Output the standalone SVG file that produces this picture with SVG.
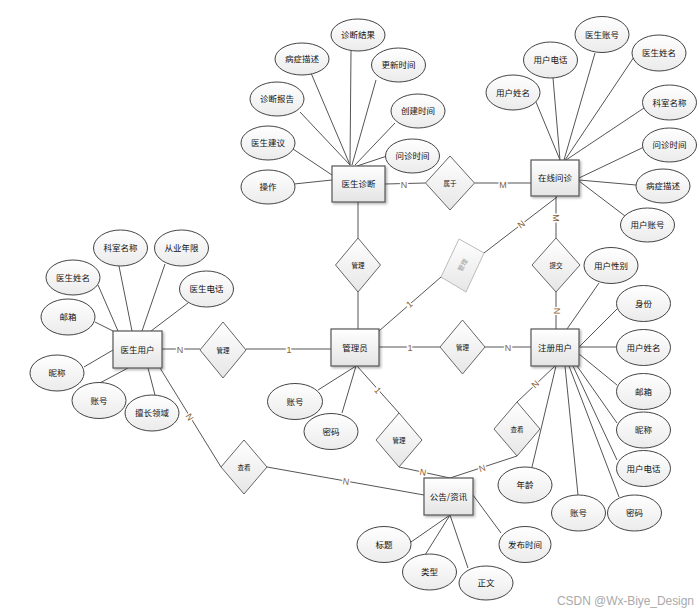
<svg xmlns="http://www.w3.org/2000/svg" width="699" height="614" viewBox="0 0 699 614">
<defs>
<linearGradient id="gE" x1="0" y1="0" x2="0" y2="1"><stop offset="0" stop-color="#ffffff"/><stop offset="1" stop-color="#e4e4e4"/></linearGradient>
<linearGradient id="gA" x1="0" y1="0" x2="0" y2="1"><stop offset="0" stop-color="#ffffff"/><stop offset="1" stop-color="#ebebeb"/></linearGradient>
<linearGradient id="gR" x1="0" y1="0" x2="0" y2="1"><stop offset="0" stop-color="#ffffff"/><stop offset="1" stop-color="#e6e6e6"/></linearGradient>
<filter id="sh" x="-20%" y="-20%" width="150%" height="150%"><feDropShadow dx="1.5" dy="1.5" stdDeviation="1" flood-color="#000" flood-opacity="0.3"/></filter>
</defs>
<style>
.ent rect{fill:url(#gE);stroke:#555;stroke-width:1.2;filter:url(#sh)}
.att ellipse{fill:url(#gA);stroke:#444;stroke-width:1}
.rel polygon{fill:url(#gR);stroke:#666;stroke-width:1}
.t{font-family:"Noto Sans CJK SC","Noto Sans CJK JP",sans-serif;font-size:8.5px;fill:#111;text-anchor:middle}
.s{font-size:6.5px}
.lab{font-family:"Liberation Sans",sans-serif;font-size:9px;fill:#8a6030;stroke:#fff;stroke-width:3;paint-order:stroke;text-anchor:middle}
#connectors line{stroke:#555;stroke-width:1}
</style>
<rect width="699" height="614" fill="#fff"/>
<g id="connectors">
<line x1="385" y1="184" x2="425.5" y2="183"/>
<line x1="474.5" y1="183" x2="531" y2="183"/>
<line x1="556" y1="196" x2="556" y2="238"/>
<line x1="556" y1="292" x2="556" y2="329"/>
<line x1="358" y1="202" x2="358" y2="238"/>
<line x1="358" y1="292" x2="358" y2="329"/>
<line x1="379" y1="331" x2="441" y2="277"/>
<line x1="484" y1="253" x2="557" y2="197"/>
<line x1="331" y1="349" x2="246" y2="349"/>
<line x1="162" y1="349" x2="200" y2="349"/>
<line x1="379" y1="347" x2="440" y2="347"/>
<line x1="485" y1="347" x2="531" y2="347"/>
<line x1="357" y1="366" x2="399" y2="413"/>
<line x1="399" y1="467" x2="450" y2="478"/>
<line x1="450" y1="478" x2="517" y2="456"/>
<line x1="517" y1="402" x2="555" y2="366"/>
<line x1="160" y1="368" x2="221" y2="467"/>
<line x1="267" y1="467" x2="424" y2="495"/>
<!-- 医生诊断 attributes -->
<line x1="311" y1="73" x2="350" y2="165"/>
<line x1="351" y1="51" x2="350" y2="165"/>
<line x1="376" y1="80" x2="352" y2="165"/>
<line x1="300" y1="112" x2="350" y2="165"/>
<line x1="395" y1="123" x2="355" y2="165"/>
<line x1="387" y1="156" x2="357" y2="166"/>
<line x1="293" y1="149" x2="332" y2="175"/>
<line x1="294" y1="184" x2="332" y2="180"/>
<!-- 在线问诊 attributes -->
<line x1="536" y1="102" x2="560" y2="160"/>
<line x1="553" y1="78" x2="560" y2="160"/>
<line x1="595" y1="53" x2="564" y2="160"/>
<line x1="634" y1="57" x2="565" y2="160"/>
<line x1="644" y1="108" x2="566" y2="160"/>
<line x1="644" y1="147" x2="579" y2="178"/>
<line x1="636" y1="185" x2="579" y2="180"/>
<line x1="625" y1="216" x2="579" y2="181"/>
<!-- 医生用户 attributes -->
<line x1="119" y1="266" x2="132" y2="331"/>
<line x1="165" y1="264" x2="142" y2="331"/>
<line x1="98" y1="285" x2="118" y2="331"/>
<line x1="188" y1="303" x2="151" y2="331"/>
<line x1="95" y1="322" x2="113" y2="331"/>
<line x1="84" y1="367" x2="113" y2="350"/>
<line x1="98" y1="384" x2="128" y2="368"/>
<line x1="155" y1="395" x2="148" y2="368"/>
<!-- 管理员 attributes -->
<line x1="318" y1="390" x2="356" y2="366"/>
<line x1="342" y1="413" x2="356" y2="366"/>
<!-- 注册用户 attributes -->
<line x1="599" y1="283" x2="567" y2="329"/>
<line x1="617" y1="309" x2="579" y2="347"/>
<line x1="617" y1="347" x2="579" y2="347"/>
<line x1="617" y1="385" x2="579" y2="354"/>
<line x1="617" y1="423" x2="577" y2="366"/>
<line x1="617" y1="460" x2="573" y2="366"/>
<line x1="532" y1="467" x2="556" y2="366"/>
<line x1="578" y1="495" x2="565" y2="366"/>
<line x1="619" y1="497" x2="569" y2="366"/>
<!-- 公告/资讯 attributes -->
<line x1="411" y1="542" x2="450" y2="515"/>
<line x1="425" y1="555" x2="450" y2="515"/>
<line x1="468" y1="568" x2="450" y2="515"/>
<line x1="501" y1="533" x2="473" y2="495"/>
</g>
<g id="labels">
<text class="lab" x="404" y="187.5">N</text>
<text class="lab" x="503" y="187.5">M</text>
<text class="lab" transform="translate(556,218) rotate(90)" y="3.5">M</text>
<text class="lab" transform="translate(557,311) rotate(90)" y="3.5">N</text>
<text class="lab" transform="translate(409,304) rotate(-41)" y="3.5">1</text>
<text class="lab" transform="translate(521,224) rotate(-37)" y="3.5">N</text>
<text class="lab" x="289" y="352.5">1</text>
<text class="lab" x="180" y="352.5">N</text>
<text class="lab" x="410" y="350.5">1</text>
<text class="lab" x="508" y="350.5">N</text>
<text class="lab" transform="translate(378,390) rotate(48)" y="3.5">1</text>
<text class="lab" transform="translate(423,472) rotate(11)" y="3.5">N</text>
<text class="lab" transform="translate(482,468) rotate(-17)" y="3.5">N</text>
<text class="lab" transform="translate(535,384) rotate(-43)" y="3.5">N</text>
<text class="lab" transform="translate(190,417) rotate(58)" y="3.5">N</text>
<text class="lab" transform="translate(346,481) rotate(10)" y="3.5">N</text>
</g>
<!-- relationships -->
<g id="r_shuyu" class="rel"><polygon points="450,156 474.5,183 450,210 425.5,183"/><text class="t s" x="450" y="185.5">属于</text></g>
<g id="r_guanli1" class="rel"><polygon points="358,238 380.5,265 358,292 335.5,265"/><text class="t s" x="358" y="267.5">管理</text></g>
<g id="r_guanli_gray"><polygon points="459,239 484,253 466,292 441,277" fill="url(#gR)" stroke="#bbb" stroke-width="1"/><text class="t s" transform="translate(462.5,265) rotate(-60)" y="2.5" style="fill:#999">管理</text></g>
<g id="r_tijiao" class="rel"><polygon points="556,238 580,265 556,292 532,265"/><text class="t s" x="556" y="267.5">提交</text></g>
<g id="r_guanli2" class="rel"><polygon points="462.5,320 485,347 462.5,374 440,347"/><text class="t s" x="462.5" y="349.5">管理</text></g>
<g id="r_guanli3" class="rel"><polygon points="223,322 246,350 223,378 200,350"/><text class="t s" x="223" y="352.5">管理</text></g>
<g id="r_guanli4" class="rel"><polygon points="399,413 422,440 399,467 376,440"/><text class="t s" x="399" y="442.5">管理</text></g>
<g id="r_chakan1" class="rel"><polygon points="517,402 540,429 517,456 494,429"/><text class="t s" x="517" y="431.5">查看</text></g>
<g id="r_chakan2" class="rel"><polygon points="244,440 267,467 244,494 221,467"/><text class="t s" x="244" y="469.5">查看</text></g>
<!-- entities -->
<g id="e_yishengzhenduan" class="ent"><rect x="332" y="166" width="53" height="36"/><text class="t" x="358.5" y="187">医生诊断</text></g>
<g id="e_zaixianwenzhen" class="ent"><rect x="531" y="160" width="48" height="36"/><text class="t" x="555" y="181">在线问诊</text></g>
<g id="e_yishengyonghu" class="ent"><rect x="113" y="331" width="49" height="37"/><text class="t" x="137.5" y="352.5">医生用户</text></g>
<g id="e_guanliyuan" class="ent"><rect x="331" y="329" width="48" height="37"/><text class="t" x="355" y="350.5">管理员</text></g>
<g id="e_zhuceyonghu" class="ent"><rect x="531" y="329" width="48" height="37"/><text class="t" x="555" y="350.5">注册用户</text></g>
<g id="e_gonggao" class="ent"><rect x="424" y="478" width="49" height="37"/><text class="t" x="448.5" y="499.5">公告/资讯</text></g>
<!-- attributes 医生诊断 -->
<g id="a_d1" class="att"><ellipse cx="302" cy="59" rx="27" ry="16"/><text class="t" x="302" y="62">病症描述</text></g>
<g id="a_d2" class="att"><ellipse cx="358" cy="35" rx="27" ry="16"/><text class="t" x="358" y="38">诊断结果</text></g>
<g id="a_d3" class="att"><ellipse cx="398.5" cy="65" rx="27" ry="17"/><text class="t" x="398.5" y="68">更新时间</text></g>
<g id="a_d4" class="att"><ellipse cx="277" cy="99" rx="27" ry="17"/><text class="t" x="277" y="102">诊断报告</text></g>
<g id="a_d5" class="att"><ellipse cx="418" cy="111" rx="27" ry="17"/><text class="t" x="418" y="114">创建时间</text></g>
<g id="a_d6" class="att"><ellipse cx="268" cy="143" rx="27" ry="17"/><text class="t" x="268" y="146">医生建议</text></g>
<g id="a_d7" class="att"><ellipse cx="412.5" cy="156" rx="27" ry="17"/><text class="t" x="412.5" y="159">问诊时间</text></g>
<g id="a_d8" class="att"><ellipse cx="268" cy="187" rx="27" ry="17"/><text class="t" x="268" y="190">操作</text></g>
<!-- attributes 在线问诊 -->
<g id="a_z1" class="att"><ellipse cx="513" cy="92.5" rx="27" ry="17.5"/><text class="t" x="513" y="95.5">用户姓名</text></g>
<g id="a_z2" class="att"><ellipse cx="550.5" cy="60" rx="27" ry="18"/><text class="t" x="550.5" y="63">用户电话</text></g>
<g id="a_z3" class="att"><ellipse cx="602" cy="34.5" rx="27" ry="18"/><text class="t" x="602" y="37.5">医生账号</text></g>
<g id="a_z4" class="att"><ellipse cx="659" cy="53" rx="27" ry="18"/><text class="t" x="659" y="56">医生姓名</text></g>
<g id="a_z5" class="att"><ellipse cx="669.5" cy="102.5" rx="27" ry="17.5"/><text class="t" x="669.5" y="105.5">科室名称</text></g>
<g id="a_z6" class="att"><ellipse cx="669.5" cy="145" rx="27" ry="17"/><text class="t" x="669.5" y="148">问诊时间</text></g>
<g id="a_z7" class="att"><ellipse cx="663" cy="186" rx="27" ry="17"/><text class="t" x="663" y="189">病症描述</text></g>
<g id="a_z8" class="att"><ellipse cx="647.5" cy="225" rx="27" ry="17"/><text class="t" x="647.5" y="228">用户账号</text></g>
<!-- attributes 医生用户 -->
<g id="a_y1" class="att"><ellipse cx="120.5" cy="248" rx="27" ry="18"/><text class="t" x="120.5" y="251">科室名称</text></g>
<g id="a_y2" class="att"><ellipse cx="181.5" cy="248" rx="27" ry="18"/><text class="t" x="181.5" y="251">从业年限</text></g>
<g id="a_y3" class="att"><ellipse cx="73" cy="277.5" rx="27" ry="17.5"/><text class="t" x="73" y="280.5">医生姓名</text></g>
<g id="a_y4" class="att"><ellipse cx="206.5" cy="289" rx="27" ry="18"/><text class="t" x="206.5" y="292">医生电话</text></g>
<g id="a_y5" class="att"><ellipse cx="68" cy="317" rx="27" ry="18"/><text class="t" x="68" y="320">邮箱</text></g>
<g id="a_y6" class="att"><ellipse cx="57" cy="373" rx="27" ry="18"/><text class="t" x="57" y="376">昵称</text></g>
<g id="a_y7" class="att"><ellipse cx="99" cy="400.5" rx="27" ry="18"/><text class="t" x="99" y="403.5">账号</text></g>
<g id="a_y8" class="att"><ellipse cx="152" cy="413" rx="27" ry="18"/><text class="t" x="152" y="416">擅长领域</text></g>
<!-- attributes 管理员 -->
<g id="a_g1" class="att"><ellipse cx="295" cy="401.5" rx="27.5" ry="18"/><text class="t" x="295" y="404.5">账号</text></g>
<g id="a_g2" class="att"><ellipse cx="331" cy="431.5" rx="27" ry="18"/><text class="t" x="331" y="434.5">密码</text></g>
<!-- attributes 注册用户 -->
<g id="a_u1" class="att"><ellipse cx="611" cy="265.5" rx="27" ry="18"/><text class="t" x="611" y="268.5">用户性别</text></g>
<g id="a_u2" class="att"><ellipse cx="643.5" cy="303.5" rx="27" ry="18"/><text class="t" x="643.5" y="306.5">身份</text></g>
<g id="a_u3" class="att"><ellipse cx="643.5" cy="347.5" rx="27" ry="18"/><text class="t" x="643.5" y="350.5">用户姓名</text></g>
<g id="a_u4" class="att"><ellipse cx="643.5" cy="391.5" rx="27" ry="18"/><text class="t" x="643.5" y="394.5">邮箱</text></g>
<g id="a_u5" class="att"><ellipse cx="643.5" cy="430" rx="27" ry="18"/><text class="t" x="643.5" y="433">昵称</text></g>
<g id="a_u6" class="att"><ellipse cx="643.5" cy="468.5" rx="27" ry="18"/><text class="t" x="643.5" y="471.5">用户电话</text></g>
<g id="a_u7" class="att"><ellipse cx="525" cy="485" rx="27" ry="18"/><text class="t" x="525" y="488">年龄</text></g>
<g id="a_u8" class="att"><ellipse cx="578.5" cy="513" rx="27" ry="18"/><text class="t" x="578.5" y="516">账号</text></g>
<g id="a_u9" class="att"><ellipse cx="634.5" cy="513" rx="27" ry="18"/><text class="t" x="634.5" y="516">密码</text></g>
<!-- attributes 公告/资讯 -->
<g id="a_n1" class="att"><ellipse cx="384" cy="544.5" rx="27" ry="18"/><text class="t" x="384" y="547.5">标题</text></g>
<g id="a_n2" class="att"><ellipse cx="429.5" cy="572" rx="27" ry="18"/><text class="t" x="429.5" y="575">类型</text></g>
<g id="a_n3" class="att"><ellipse cx="486" cy="583" rx="27" ry="17"/><text class="t" x="486" y="586">正文</text></g>
<g id="a_n4" class="att"><ellipse cx="525" cy="544.5" rx="26" ry="18"/><text class="t" x="525" y="547.5">发布时间</text></g>
<text x="557" y="605" font-family="Liberation Sans, sans-serif" font-size="12" fill="#aaa" textLength="137">CSDN @Wx-Biye_Design</text>
</svg>
